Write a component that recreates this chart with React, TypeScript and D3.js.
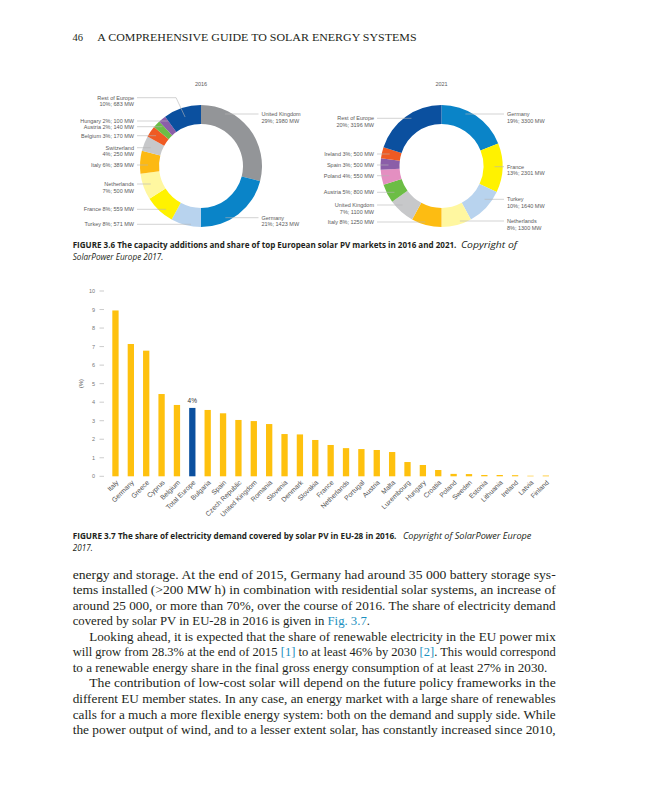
import React, { useLayoutEffect, useRef, useState } from 'react';
import * as d3 from 'd3';

// ---------------- DATA ----------------
const names2016 = ['United Kingdom', 'Germany', 'Turkey', 'France', 'Netherlands', 'Italy', 'Switzerland', 'Belgium', 'Austria', 'Hungary', 'Rest of Europe'];
const pct2016 = [29, 21, 8, 8, 7, 6, 4, 3, 2, 2, 10];
const mw2016 = [1980, 1423, 571, 559, 500, 389, 250, 170, 140, 100, 683];

const names2021 = ['Germany', 'France', 'Turkey', 'Netherlands', 'Italy', 'United Kingdom', 'Austria', 'Poland', 'Spain', 'Ireland', 'Rest of Europe'];
const pct2021 = [19, 13, 10, 8, 8, 7, 5, 4, 3, 3, 20];
const mw2021 = [3300, 2301, 1640, 1300, 1250, 1100, 800, 550, 500, 500, 3196];

const barCountries = ['Italy', 'Germany', 'Greece', 'Cyprus', 'Belgium', 'Total Europe', 'Bulgaria', 'Spain', 'Czech Republic', 'United Kingdom', 'Romania', 'Slovenia', 'Denmark', 'Slovakia', 'France', 'Netherlands', 'Portugal', 'Austria', 'Malta', 'Luxembourg', 'Hungary', 'Croatia', 'Poland', 'Sweden', 'Estonia', 'Lithuania', 'Ireland', 'Latvia', 'Finland'];
const barValues = [8.95, 7.14, 6.78, 4.44, 3.85, 3.69, 3.58, 3.4, 3.04, 2.98, 2.82, 2.28, 2.26, 1.96, 1.69, 1.52, 1.47, 1.42, 1.31, 0.77, 0.61, 0.34, 0.13, 0.12, 0.07, 0.07, 0.06, 0.03, 0.04];
const barHighlight = 'Total Europe';
const barHighlightLabel = '4%';
const yTicks = [0, 1, 2, 3, 4, 5, 6, 7, 8, 9, 10];

const headerNumber = '46';
const headerTitle = 'A COMPREHENSIVE GUIDE TO SOLAR ENERGY SYSTEMS';

const caption36 = ['FIGURE 3.6 The capacity additions and share of top European solar PV markets in 2016 and 2021.', 'Copyright of', 'SolarPower Europe 2017.'];
const caption37 = ['FIGURE 3.7 The share of electricity demand covered by solar PV in EU-28 in 2016.', 'Copyright of SolarPower Europe', '2017.'];

// body lines: segments [text, isLink]
const bodyLines: [string, boolean][][] = [
  [['energy and storage. At the end of 2015, Germany had around 35 000 battery storage sys-', false]],
  [['tems installed (>200 MW h) in combination with residential solar systems, an increase of', false]],
  [['around 25 000, or more than 70%, over the course of 2016. The share of electricity demand', false]],
  [['covered by solar PV in EU-28 in 2016 is given in ', false], ['Fig. 3.7', true], ['.', false]],
  [['Looking ahead, it is expected that the share of renewable electricity in the EU power mix', false]],
  [['will grow from 28.3% at the end of 2015 ', false], ['[1]', true], [' to at least 46% by 2030 ', false], ['[2]', true], ['. This would correspond', false]],
  [['to a renewable energy share in the final gross energy consumption of at least 27% in 2030.', false]],
  [['The contribution of low-cost solar will depend on the future policy frameworks in the', false]],
  [['different EU member states. In any case, an energy market with a large share of renewables', false]],
  [['calls for a much a more flexible energy system: both on the demand and supply side. While', false]],
  [['the power output of wind, and to a lesser extent solar, has constantly increased since 2010,', false]],
];

// ---------------- STYLES / LAYOUT ----------------
const colors2016 = ['#939598', '#0a84c8', '#b8d3ee', '#fff200', '#fff7a0', '#fdb913', '#c7c8ca', '#ef5a23', '#6cbd45', '#8b5ea8', '#0b509f'];
const colors2021 = ['#0a84c8', '#fff200', '#b8d3ee', '#fff7a0', '#fdbc12', '#c7c8ca', '#6cbd45', '#e48fc1', '#8b5ea8', '#ef5a23', '#0b509f'];

type LabelLayout = { side: 'left' | 'right'; y: number; two: boolean };
const layout2016: LabelLayout[] = [
  { side: 'right', y: 114, two: true },
  { side: 'right', y: 217.7, two: true },
  { side: 'left', y: 224.3, two: false },
  { side: 'left', y: 209.3, two: false },
  { side: 'left', y: 184, two: true },
  { side: 'left', y: 165, two: false },
  { side: 'left', y: 147.7, two: true },
  { side: 'left', y: 135.7, two: false },
  { side: 'left', y: 126.7, two: false },
  { side: 'left', y: 121, two: false },
  { side: 'left', y: 97.7, two: true },
];
const layout2021: LabelLayout[] = [
  { side: 'right', y: 114, two: true },
  { side: 'right', y: 166.7, two: true },
  { side: 'right', y: 199.3, two: true },
  { side: 'right', y: 221, two: true },
  { side: 'left', y: 222, two: false },
  { side: 'left', y: 205, two: true },
  { side: 'left', y: 192.3, two: false },
  { side: 'left', y: 175.7, two: false },
  { side: 'left', y: 165, two: false },
  { side: 'left', y: 154, two: false },
  { side: 'left', y: 118.3, two: true },
];

const R_IN = 42;
const R_OUT = 61;
const LABEL_FONT = 'Liberation Sans, Arial, sans-serif';
const LABEL_COLOR = '#5a5a5a';
const CAP_FONT = '"Open Sans", "Noto Sans", sans-serif';
const BODY_FONT = '"Liberation Serif", "Times New Roman", serif';

// Text scaled horizontally to a target width (measured after layout)
function FitText(props: { x: number; y: number; width: number; children: React.ReactNode; [k: string]: any }) {
  const { x, y, width, children, ...rest } = props;
  const ref = useRef<SVGTextElement>(null);
  const [s, setS] = useState(1);
  useLayoutEffect(() => {
    const measure = () => {
      if (ref.current) {
        const w = ref.current.getComputedTextLength();
        if (w > 0) setS(width / w);
      }
    };
    measure();
    if ((document as any).fonts && (document as any).fonts.ready) {
      (document as any).fonts.ready.then(measure);
    }
  }, [width]);
  return (
    <g transform={`translate(${x},${y}) scale(${s},1)`}>
      <text ref={ref} x={0} y={0} {...rest}>{children}</text>
    </g>
  );
}

function Donut(props: {
  cx: number; cy: number; title: string; names: string[]; pct: number[]; mw: number[];
  colors: string[]; layout: LabelLayout[]; leftX: number; rightX: number;
}) {
  const { cx, cy, title, names, pct, mw, colors, layout, leftX, rightX } = props;
  const pie = d3.pie<number>().sort(null).value((d) => d);
  const arcs = pie(pct);
  const arc = d3.arc<d3.PieArcDatum<number>>().innerRadius(R_IN).outerRadius(R_OUT);
  const midArc = d3.arc<d3.PieArcDatum<number>>().innerRadius((R_IN + R_OUT) / 2).outerRadius((R_IN + R_OUT) / 2);
  return (
    <g>
      <text x={cx} y={86} textAnchor="middle" fontSize={5.5} fill={LABEL_COLOR} fontFamily={LABEL_FONT}>{title}</text>
      <g transform={`translate(${cx},${cy})`}>
        {arcs.map((a, i) => (
          <path key={i} d={arc(a) || ''} fill={colors[i]} />
        ))}
      </g>
      {arcs.map((a, i) => {
        const L = layout[i];
        const textX = L.side === 'left' ? leftX : rightX;
        const startX = L.side === 'left' ? textX + 3 : textX - 3;
        const dy = L.y - cy;
        let d: string;
        if (Math.abs(dy) < R_OUT) {
          const half = Math.sqrt(R_OUT * R_OUT - dy * dy);
          const ex = L.side === 'left' ? cx - half + 8 : cx + half - 8;
          d = `M${startX},${L.y}L${ex},${L.y}`;
        } else {
          const c = midArc.centroid(a);
          const px = cx + c[0];
          const py = cy + c[1];
          const elbowX = L.side === 'left' ? px - 9 : px + 9;
          d = `M${startX},${L.y}L${elbowX},${L.y}L${px},${py}`;
        }
        const lines = L.two ? [names[i], `${pct[i]}%; ${mw[i]} MW`] : [`${names[i]} ${pct[i]}%; ${mw[i]} MW`];
        return (
          <g key={'l' + i}>
            <path d={d} fill="none" stroke="#b5b5b5" strokeWidth={0.6} />
            {lines.map((t, j) => (
              <text key={j} x={textX} y={L.y + 2 + j * 6.5} textAnchor={L.side === 'left' ? 'end' : 'start'}
                fontSize={5.5} fill={LABEL_COLOR} fontFamily={LABEL_FONT}>{t}</text>
            ))}
          </g>
        );
      })}
    </g>
  );
}

function BarChart() {
  const x = d3.scaleBand<string>().domain(barCountries).range([107.7, 553.6]).paddingInner(0.59).paddingOuter(0.3);
  const y = d3.scaleLinear().domain([0, 10]).range([476.3, 291]);
  const hiIdx = barCountries.indexOf(barHighlight);
  return (
    <g>
      {yTicks.map((t) => (
        <g key={t}>
          <text x={95} y={y(t) + 2} textAnchor="end" fontSize={5.5} fill="#777" fontFamily={LABEL_FONT}>{t}</text>
          <line x1={99.5} x2={104} y1={y(t)} y2={y(t)} stroke="#aaa" strokeWidth={0.6} />
        </g>
      ))}
      <text transform={`translate(82.5,${y(5)}) rotate(-90)`} textAnchor="middle" fontSize={6} fill="#555" fontFamily={LABEL_FONT}>(%)</text>
      {barCountries.map((c, i) => (
        <rect key={c} x={x(c)} y={y(barValues[i])} width={x.bandwidth()} height={y(0) - y(barValues[i])}
          fill={c === barHighlight ? '#0b509f' : '#fec10e'} />
      ))}
      <text x={(x(barHighlight) || 0) + x.bandwidth() / 2} y={y(barValues[hiIdx]) - 5} textAnchor="middle" fontSize={6.5}
        fill="#333" fontFamily={LABEL_FONT}>{barHighlightLabel}</text>
      {barCountries.map((c) => {
        const cxp = (x(c) || 0) + x.bandwidth() / 2 + 3.5;
        return (
          <text key={'t' + c} transform={`translate(${cxp},${483}) rotate(-45)`} textAnchor="end" fontSize={6.8}
            fill="#555" fontFamily={LABEL_FONT}>{c}</text>
        );
      })}
    </g>
  );
}

export default function App() {
  const bodyX = 72.7;
  const bodyRight = 555.7;
  const indentX = 89.3;
  const indentLines = [4, 7];
  const lineEnds: Record<number, number> = { 3: 370, 6: 547.3 };
  return (
    <svg width={647} height={800} viewBox="0 0 647 800" style={{ position: 'absolute', left: 0, top: 0, background: '#fff' }}>
      <rect x={0} y={0} width={647} height={800} fill="#fff" />
      {/* header */}
      <text x={72.5} y={40.5} fontSize={10.5} fill="#231f20" fontFamily={BODY_FONT}>{headerNumber}</text>
      <FitText x={97.3} y={40.5} width={319} fontSize={10.5} fill="#231f20" fontFamily={BODY_FONT}>{headerTitle}</FitText>

      <Donut cx={201} cy={166} title="2016" names={names2016} pct={pct2016} mw={mw2016} colors={colors2016}
        layout={layout2016} leftX={134} rightX={261.5} />
      <Donut cx={441.5} cy={166} title="2021" names={names2021} pct={pct2021} mw={mw2021} colors={colors2021}
        layout={layout2021} leftX={374} rightX={507} />

      {/* caption 3.6 */}
      <FitText x={72.7} y={248} width={384} fontSize={8.4} fontWeight={700} fill="#231f20" fontFamily={CAP_FONT}>{caption36[0]}</FitText>
      <FitText x={461} y={248} width={56} fontSize={8.4} fontStyle="italic" fill="#231f20" fontFamily={CAP_FONT}>{caption36[1]}</FitText>
      <FitText x={72.7} y={259.8} width={90.6} fontSize={8.4} fontStyle="italic" fill="#231f20" fontFamily={CAP_FONT}>{caption36[2]}</FitText>

      <BarChart />

      {/* caption 3.7 */}
      <FitText x={72.7} y={538.5} width={324} fontSize={8.4} fontWeight={700} fill="#231f20" fontFamily={CAP_FONT}>{caption37[0]}</FitText>
      <FitText x={403} y={538.5} width={128.5} fontSize={8.4} fontStyle="italic" fill="#231f20" fontFamily={CAP_FONT}>{caption37[1]}</FitText>
      <FitText x={72.7} y={551} width={20} fontSize={8.4} fontStyle="italic" fill="#231f20" fontFamily={CAP_FONT}>{caption37[2]}</FitText>

      {/* body */}
      {bodyLines.map((segs, i) => {
        const x0 = indentLines.includes(i) ? indentX : bodyX;
        const x1 = lineEnds[i] ?? bodyRight;
        return (
          <text key={i} x={x0} y={578.6 + i * 15.55} fontSize={12.5} fill="#231f20" fontFamily={BODY_FONT}
            textLength={x1 - x0} lengthAdjust="spacingAndGlyphs">
            {segs.map(([t, link], j) => (
              <tspan key={j} fill={link ? '#1b8fc0' : '#231f20'}>{t}</tspan>
            ))}
          </text>
        );
      })}
    </svg>
  );
}
